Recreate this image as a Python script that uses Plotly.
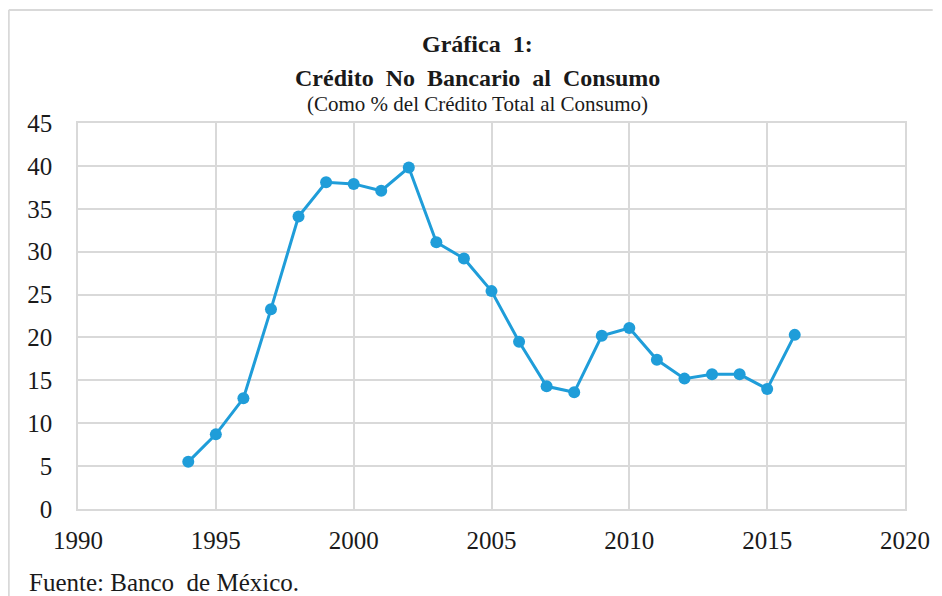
import plotly.graph_objects as go

years = [1994, 1995, 1996, 1997, 1998, 1999, 2000, 2001, 2002, 2003, 2004, 2005,
         2006, 2007, 2008, 2009, 2010, 2011, 2012, 2013, 2014, 2015, 2016]
values = [5.5, 8.7, 12.9, 23.3, 34.1, 38.1, 37.9, 37.1, 39.8, 31.1, 29.2, 25.4,
          19.5, 14.3, 13.6, 20.2, 21.1, 17.4, 15.2, 15.7, 15.7, 14.0, 20.3]

title1 = "Gráfica  1:"
title2 = "Crédito  No  Bancario  al  Consumo"
subtitle = "(Como % del Crédito Total al Consumo)"
source = "Fuente: Banco  de México."

# page body adds an 8px margin, so the figure is 8px smaller than the window
W, H = 934, 588
L, R, T, B = 70, 28, 115, 87
PW = W - L - R
PH = H - T - B

def px(x):
    return (x - L) / PW

def py(y):
    return (H - B - y) / PH

SERIF = "Liberation Serif, Times New Roman, serif"
COLOR = "#1F9DD9"
GRID = "#D9D9D9"
TXT = "#1a1a1a"

fig = go.Figure()
fig.add_trace(go.Scatter(
    x=years, y=values, mode="lines+markers",
    line=dict(color=COLOR, width=3),
    marker=dict(color=COLOR, size=12),
    showlegend=False,
))

fig.update_layout(
    width=W, height=H,
    margin=dict(l=L, r=R, t=T, b=B),
    paper_bgcolor="white", plot_bgcolor="white",
    font=dict(family=SERIF, color=TXT),
    xaxis=dict(range=[1990, 2020], tickmode="linear", tick0=1990, dtick=5,
               showgrid=True, gridcolor=GRID, gridwidth=1.5,
               showline=True, linecolor=GRID, linewidth=1.5, mirror=True,
               zeroline=False, tickfont=dict(family=SERIF, size=25, color=TXT),
               ticks="", ticklabelstandoff=8),
    yaxis=dict(range=[0, 45], tickmode="linear", tick0=0, dtick=5,
               showgrid=True, gridcolor=GRID, gridwidth=1.5,
               showline=True, linecolor=GRID, linewidth=1.5, mirror=True,
               zeroline=False, tickfont=dict(family=SERIF, size=25, color=TXT),
               ticks="", ticklabelstandoff=19),
)

fig.add_annotation(x=px(474), y=py(36), xref="paper", yref="paper", text="<b>" + title1 + "</b>",
                   showarrow=False, xanchor="center", yanchor="middle",
                   font=dict(family=SERIF, size=24, color=TXT))
fig.add_annotation(x=px(474), y=py(70), xref="paper", yref="paper", text="<b>" + title2 + "</b>",
                   showarrow=False, xanchor="center", yanchor="middle",
                   font=dict(family=SERIF, size=24, color=TXT))
fig.add_annotation(x=px(474), y=py(96), xref="paper", yref="paper", text=subtitle,
                   showarrow=False, xanchor="center", yanchor="middle",
                   font=dict(family=SERIF, size=21, color=TXT))
fig.add_annotation(x=px(19), y=py(589), xref="paper", yref="paper", text=source,
                   showarrow=False, xanchor="left", yanchor="bottom", borderpad=0,
                   font=dict(family=SERIF, size=25, color=TXT))

fig.add_shape(type="line", xref="paper", yref="paper", x0=px(0), x1=px(W), y0=py(2), y1=py(2),
              line=dict(color=GRID, width=2))
fig.add_shape(type="line", xref="paper", yref="paper", x0=px(0), x1=px(0), y0=py(2), y1=py(H),
              line=dict(color=GRID, width=2))

fig.write_html("out.html")
